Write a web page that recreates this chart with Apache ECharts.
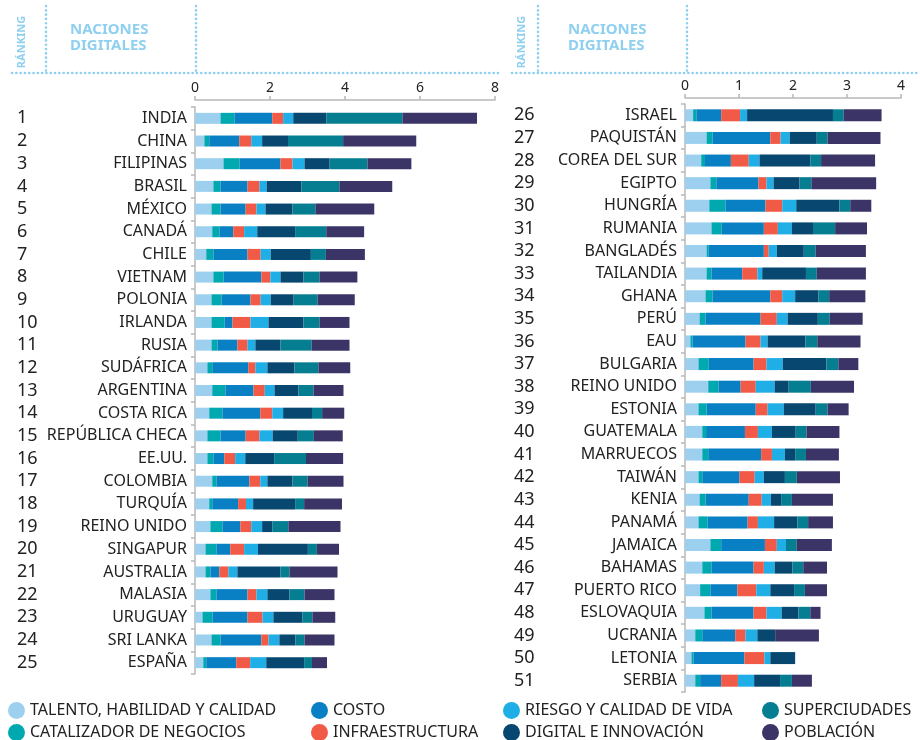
<!DOCTYPE html>
<html>
<head>
<meta charset="utf-8">
<script src="https://cdn.jsdelivr.net/npm/echarts@6/dist/echarts.min.js"></script>
<style>
  html, body { margin: 0; padding: 0; background: #fff; }
  #chart { width: 920px; height: 740px; }
</style>
</head>
<body>
<div id="chart"></div>
<script>
// Países en orden de ránking (1-25 panel izquierdo, 26-51 panel derecho)
const paises = [
    'INDIA', 'CHINA', 'FILIPINAS', 'BRASIL', 'MÉXICO', 'CANADÁ', 'CHILE', 'VIETNAM', 'POLONIA', 'IRLANDA',
    'RUSIA', 'SUDÁFRICA', 'ARGENTINA', 'COSTA RICA', 'REPÚBLICA CHECA', 'EE.UU.', 'COLOMBIA', 'TURQUÍA',
    'REINO UNIDO', 'SINGAPUR', 'AUSTRALIA', 'MALASIA', 'URUGUAY', 'SRI LANKA', 'ESPAÑA',
    'ISRAEL', 'PAQUISTÁN', 'COREA DEL SUR', 'EGIPTO', 'HUNGRÍA', 'RUMANIA', 'BANGLADÉS', 'TAILANDIA',
    'GHANA', 'PERÚ', 'EAU', 'BULGARIA', 'REINO UNIDO', 'ESTONIA', 'GUATEMALA', 'MARRUECOS', 'TAIWÁN',
    'KENIA', 'PANAMÁ', 'JAMAICA', 'BAHAMAS', 'PUERTO RICO', 'ESLOVAQUIA', 'UCRANIA', 'LETONIA', 'SERBIA'
];

// Valores de cada factor, mismo orden que paises
const talento = [0.68, 0.25, 0.76, 0.49, 0.44, 0.46, 0.30, 0.49, 0.44, 0.44, 0.44, 0.33, 0.46, 0.38, 0.33, 0.33, 0.46, 0.38, 0.41, 0.28, 0.28, 0.41, 0.20, 0.44, 0.22,
    0.15, 0.40, 0.30, 0.47, 0.45, 0.49, 0.40, 0.40, 0.38, 0.27, 0.10, 0.25, 0.43, 0.25, 0.32, 0.32, 0.25, 0.27, 0.25, 0.47, 0.32, 0.28, 0.36, 0.19, 0.12, 0.19];
const catalizador = [0.37, 0.13, 0.43, 0.19, 0.24, 0.19, 0.19, 0.27, 0.27, 0.35, 0.16, 0.13, 0.35, 0.35, 0.35, 0.16, 0.11, 0.08, 0.32, 0.29, 0.13, 0.16, 0.27, 0.24, 0.08,
    0.06, 0.11, 0.07, 0.11, 0.30, 0.19, 0.04, 0.09, 0.13, 0.11, 0.04, 0.19, 0.19, 0.15, 0.07, 0.11, 0.07, 0.11, 0.17, 0.20, 0.17, 0.19, 0.13, 0.13, 0.04, 0.09];
const costo = [1.01, 0.80, 1.09, 0.72, 0.67, 0.37, 0.91, 1.01, 0.77, 0.21, 0.53, 0.96, 0.75, 1.01, 0.67, 0.29, 0.88, 0.69, 0.48, 0.37, 0.24, 0.83, 0.93, 1.09, 0.80,
    0.46, 1.07, 0.48, 0.78, 0.74, 0.78, 1.02, 0.57, 1.07, 1.02, 0.98, 0.83, 0.41, 0.91, 0.72, 0.98, 0.69, 0.80, 0.74, 0.81, 0.78, 0.50, 0.78, 0.61, 0.94, 0.39];
const infraestructura = [0.29, 0.32, 0.32, 0.32, 0.29, 0.29, 0.35, 0.24, 0.27, 0.48, 0.27, 0.19, 0.30, 0.32, 0.37, 0.29, 0.29, 0.21, 0.29, 0.37, 0.24, 0.24, 0.40, 0.19, 0.37,
    0.35, 0.19, 0.33, 0.15, 0.31, 0.26, 0.09, 0.28, 0.22, 0.30, 0.28, 0.24, 0.28, 0.22, 0.24, 0.20, 0.28, 0.24, 0.19, 0.22, 0.19, 0.35, 0.24, 0.19, 0.37, 0.31];
const riesgo = [0.27, 0.29, 0.32, 0.19, 0.24, 0.35, 0.27, 0.27, 0.27, 0.48, 0.21, 0.32, 0.26, 0.29, 0.35, 0.27, 0.19, 0.19, 0.29, 0.37, 0.24, 0.29, 0.29, 0.29, 0.43,
    0.13, 0.17, 0.20, 0.13, 0.26, 0.26, 0.15, 0.09, 0.24, 0.20, 0.13, 0.30, 0.35, 0.30, 0.26, 0.24, 0.17, 0.17, 0.30, 0.17, 0.20, 0.26, 0.28, 0.22, 0.11, 0.30];
const digital = [0.88, 0.69, 0.67, 0.93, 0.72, 1.01, 1.07, 0.61, 0.61, 0.93, 0.67, 0.72, 0.64, 0.77, 0.67, 0.77, 0.67, 1.12, 0.27, 1.33, 1.15, 0.59, 0.77, 0.43, 1.01,
    1.59, 0.50, 0.94, 0.48, 0.80, 0.39, 0.50, 0.81, 0.43, 0.56, 0.70, 0.81, 0.26, 0.59, 0.44, 0.19, 0.39, 0.19, 0.43, 0, 0.33, 0.44, 0.31, 0.33, 0.46, 0.48];
const superciudades = [2.03, 1.47, 1.01, 1.01, 0.61, 0.83, 0.40, 0.43, 0.64, 0.43, 0.83, 0.64, 0.40, 0.27, 0.43, 0.85, 0.40, 0.24, 0.43, 0.24, 0.24, 0.40, 0.27, 0.24, 0.21,
    0.20, 0.20, 0.20, 0.22, 0.20, 0.41, 0.22, 0.20, 0.20, 0.22, 0.22, 0.22, 0.41, 0.22, 0.20, 0.20, 0.22, 0.20, 0.20, 0.20, 0.20, 0.20, 0.22, 0, 0, 0.22];
const poblacion = [1.99, 1.95, 1.17, 1.41, 1.57, 1.01, 1.04, 1.01, 0.99, 0.80, 1.01, 0.85, 0.80, 0.59, 0.77, 0.99, 0.96, 1.01, 1.39, 0.59, 1.28, 0.80, 0.61, 0.80, 0.40,
    0.70, 0.98, 1.00, 1.20, 0.39, 0.59, 0.93, 0.91, 0.67, 0.61, 0.80, 0.37, 0.80, 0.39, 0.61, 0.61, 0.80, 0.76, 0.46, 0.65, 0.44, 0.41, 0.19, 0.81, 0, 0.37];

const factores = [
    { name: 'TALENTO, HABILIDAD Y CALIDAD', data: talento, color: '#9dd0ee' },
    { name: 'CATALIZADOR DE NEGOCIOS', data: catalizador, color: '#00a9b0' },
    { name: 'COSTO', data: costo, color: '#0a80c4' },
    { name: 'INFRAESTRUCTURA', data: infraestructura, color: '#f05a46' },
    { name: 'RIESGO Y CALIDAD DE VIDA', data: riesgo, color: '#20aee6' },
    { name: 'DIGITAL E INNOVACIÓN', data: digital, color: '#08476f' },
    { name: 'SUPERCIUDADES', data: superciudades, color: '#067e92' },
    { name: 'POBLACIÓN', data: poblacion, color: '#3b3466' }
];

const corte = 25; // primeros 25 en el panel izquierdo
const xTicksIzq = { min: 0, max: 8, interval: 2 };
const xTicksDer = { min: 0, max: 4, interval: 1 };

const FONT = 'Noto Sans, sans-serif';
const AZUL_CLARO = '#8fd0f0';
const GRIS = '#b8b8b8';

const rankIzq = paises.slice(0, corte).map((p, i) => String(i + 1));
const rankDer = paises.slice(corte).map((p, i) => String(corte + i + 1));

function ejeX(gridIndex, t, offset) {
    return {
        type: 'value', gridIndex, position: 'top', offset,
        min: t.min, max: t.max, interval: t.interval,
        axisLine: { show: true, lineStyle: { color: GRIS, width: 1.5 } },
        axisTick: { show: true, length: 4, lineStyle: { color: GRIS, width: 1.5 } },
        axisLabel: { color: '#222', fontSize: 14, margin: 5, fontFamily: FONT },
        splitLine: { show: false }
    };
}

function ejeNombres(gridIndex, data) {
    return {
        type: 'category', gridIndex, inverse: true, position: 'left', data,
        axisLine: { show: true, lineStyle: { color: GRIS, width: 1.5 } },
        axisTick: { show: true, length: 4, lineStyle: { color: GRIS, width: 1.5 } },
        axisLabel: { color: '#222', fontSize: 16, margin: 8, interval: 0, fontFamily: FONT }
    };
}

function ejeRank(gridIndex, data, margin) {
    return {
        type: 'category', gridIndex, inverse: true, position: 'left', offset: 0, data,
        axisLine: { show: false }, axisTick: { show: false },
        axisLabel: { color: '#222', fontSize: 18, margin, interval: 0, align: 'left', fontFamily: FONT }
    };
}

const series = [];
factores.forEach(f => {
    series.push({
        name: f.name, type: 'bar', stack: 'izq', xAxisIndex: 0, yAxisIndex: 0,
        data: f.data.slice(0, corte), barWidth: 11,
        itemStyle: { color: f.color }, emphasis: { disabled: true }
    });
    series.push({
        name: f.name, type: 'bar', stack: 'der', xAxisIndex: 1, yAxisIndex: 2,
        data: f.data.slice(corte), barWidth: 12,
        itemStyle: { color: f.color }, emphasis: { disabled: true }
    });
});

// leyenda: una entrada por factor, 4 columnas x 2 filas
const colsLeyenda = [8, 311, 503, 762];
const filasLeyenda = [702, 724];
const legend = factores.map((f, i) => ({
    left: colsLeyenda[Math.floor(i / 2)], top: filasLeyenda[i % 2], padding: 0,
    data: [f.name], icon: 'circle', itemWidth: 17, itemHeight: 17,
    selectedMode: false,
    textStyle: { color: '#222', fontSize: 16, fontFamily: FONT }
}));

// cabeceras con líneas punteadas
function punteada(x1, y1, x2, y2) {
    return {
        type: 'line', silent: true,
        shape: { x1, y1, x2, y2 },
        style: { stroke: AZUL_CLARO, lineWidth: 2.6, lineDash: [0.1, 4.2], lineCap: 'round' }
    };
}
function cabecera(x0, xNombre, xDiv1, xDiv2, xFin) {
    return [
        {
            type: 'text', x: x0, y: 42, rotation: Math.PI / 2, silent: true,
            style: { text: 'RÁNKING', fill: AZUL_CLARO, font: 'bold 11px ' + FONT, align: 'center', verticalAlign: 'middle' }
        },
        {
            type: 'text', x: xNombre, y: 22, silent: true,
            style: { text: 'NACIONES\nDIGITALES', fill: AZUL_CLARO, font: 'bold 15px ' + FONT, lineHeight: 16 }
        },
        punteada(xDiv1, 6, xDiv1, 72),
        punteada(xDiv2, 6, xDiv2, 72),
        punteada(x0 - 10, 73, xFin, 73)
    ];
}

const option = {
    backgroundColor: '#fff',
    animation: false,
    textStyle: { fontFamily: FONT },
    grid: [
        { left: 195, width: 300, top: 107, height: 567 },
        { left: 685, width: 216, top: 104, height: 588 }
    ],
    xAxis: [ejeX(0, xTicksIzq, 7), ejeX(1, xTicksDer, 6)],
    yAxis: [
        ejeNombres(0, paises.slice(0, corte)),
        ejeRank(0, rankIzq, 178),
        ejeNombres(1, paises.slice(corte)),
        ejeRank(1, rankDer, 171)
    ],
    legend,
    graphic: [
        ...cabecera(22, 70, 46, 196, 500),
        ...cabecera(522, 568, 538, 687, 920)
    ],
    series
};

const chart = echarts.init(document.getElementById('chart'));
chart.setOption(option);
</script>
</body>
</html>
